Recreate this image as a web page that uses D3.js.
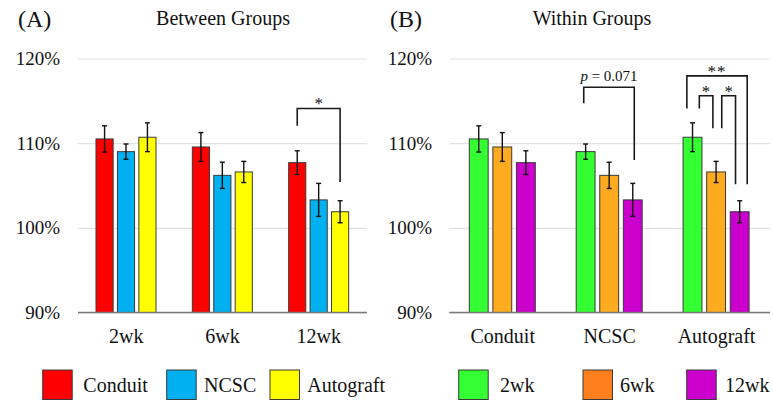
<!DOCTYPE html>
<meta charset="utf-8">
<script src="https://d3js.org/d3.v7.min.js"></script>
<style>
  body { margin: 0; background: #fff; }
  svg text { font-family: "Liberation Serif", "Times New Roman", serif; fill: #111; }
</style>
<div id="chart"></div>
<script>
// data
const weeks = ["2wk", "6wk", "12wk"];
const groups = ["Conduit", "NCSC", "Autograft"];
// mean (% of baseline), rows = group, columns = week
const conduitMean = [110.5, 109.55, 107.7];
const ncscMean = [109.0, 106.2, 103.3];
const autograftMean = [110.7, 106.6, 101.9];
const conduitErr = [1.55, 1.7, 1.4];
const ncscErr = [0.9, 1.55, 1.95];
const autograftErr = [1.7, 1.25, 1.3];
const yTicks = [90, 100, 110, 120];

const groupColors = ["#ff0000", "#00b0f0", "#ffff00"];
const weekColors = ["#33ff33", "#ffab1f", "#cc00cc"];
const weekLegendColors = ["#33ff33", "#ff7f1f", "#cc00cc"];

const means = [conduitMean, ncscMean, autograftMean];
const errs = [conduitErr, ncscErr, autograftErr];

// brackets: category, left series + position in bar, right series + position, y values
const bracketsA = [
  {cat: "12wk", s1: "Conduit", f1: 0.5, s2: "Autograft", f2: 0.5, top: 114.1, foot1: 112.05, foot2: 105.4, label: "*"}
];
const bracketsB = [
  {cat: "NCSC", s1: "2wk", f1: 0.4, s2: "12wk", f2: 0.58, top: 116.6, foot1: 114.7, foot2: 108.0, label: "p"},
  {cat: "Autograft", s1: "2wk", f1: 0.2, s2: "12wk", f2: 0.9, top: 117.95, foot1: 114.1, foot2: 105.15, label: "**"},
  {cat: "Autograft", s1: "2wk", f1: 0.86, s2: "6wk", f2: 0.33, top: 115.6, foot1: 114.1, foot2: 111.75, label: "*"},
  {cat: "Autograft", s1: "6wk", f1: 0.8, s2: "12wk", f2: 0.28, top: 115.6, foot1: 111.75, foot2: 105.15, label: "*"}
];

const W = 773, H = 405;
const svg = d3.select("#chart").append("svg")
  .attr("width", W).attr("height", H);

const y = d3.scaleLinear().domain([90, 120]).range([312.5, 58.5]);

function panel(opts) {
  const g = svg.append("g");
  const x0 = d3.scaleBand().domain(opts.cats).range([opts.left, opts.right]);
  const x1 = d3.scaleBand().domain(opts.series)
    .range([opts.inner[0], opts.inner[1]]).paddingInner(0.2);

  // grid + tick labels
  const ax = g.append("g")
    .attr("transform", `translate(${opts.left},0)`)
    .call(d3.axisLeft(y).tickValues(yTicks).tickFormat(d => d + "%")
      .tickSize(-(opts.right - opts.left)).tickPadding(opts.left - opts.labelRight));
  ax.select(".domain").remove();
  ax.selectAll(".tick line").attr("stroke", "#e2e2e2").attr("stroke-width", 1.2);
  ax.selectAll(".tick text").style("font-size", "19px")
    .style("font-family", "Liberation Serif, serif").attr("fill", "#111");

  // bars
  const rows = [];
  opts.cats.forEach((c, ci) => opts.series.forEach((s, si) => {
    rows.push({c, s, si, v: opts.value(ci, si), e: opts.err(ci, si)});
  }));
  const bg = g.append("g");
  bg.selectAll("rect").data(rows).join("rect")
    .attr("x", d => x0(d.c) + x1(d.s))
    .attr("width", x1.bandwidth())
    .attr("y", d => y(d.v))
    .attr("height", d => y(90) - y(d.v))
    .attr("fill", d => opts.colors[d.si])
    .attr("stroke", "#3a3a3a").attr("stroke-width", 1);

  // error bars
  const eg = g.append("g").attr("stroke", "#111").attr("stroke-width", 1.4);
  rows.forEach(d => {
    const cx = x0(d.c) + x1(d.s) + x1.bandwidth() / 2;
    eg.append("line").attr("x1", cx).attr("x2", cx)
      .attr("y1", y(d.v + d.e)).attr("y2", y(d.v - d.e));
    [d.v + d.e, d.v - d.e].forEach(v => eg.append("line")
      .attr("x1", cx - 2.5).attr("x2", cx + 2.5).attr("y1", y(v)).attr("y2", y(v)));
  });

  // baseline
  g.append("line").attr("x1", opts.left).attr("x2", opts.right)
    .attr("y1", y(90)).attr("y2", y(90))
    .attr("stroke", "#7a7a7a").attr("stroke-width", 1.6);

  // category labels
  g.selectAll(".cat").data(opts.cats).join("text")
    .attr("x", d => x0(d) + x0.bandwidth() / 2)
    .attr("y", 343)
    .attr("text-anchor", "middle")
    .style("font-size", "20px")
    .text(d => d);

  // significance brackets
  const sg = g.append("g");
  opts.brackets.forEach(b => {
    const xa = x0(b.cat) + x1(b.s1) + b.f1 * x1.bandwidth();
    const xb = x0(b.cat) + x1(b.s2) + b.f2 * x1.bandwidth();
    sg.append("path")
      .attr("d", `M${xa},${y(b.foot1)}V${y(b.top)}H${xb}V${y(b.foot2)}`)
      .attr("fill", "none").attr("stroke", "#1a1a1a").attr("stroke-width", 1.6);
    const t = sg.append("text")
      .attr("x", (xa + xb) / 2)
      .attr("text-anchor", "middle");
    if (b.label === "p") {
      t.attr("y", y(b.top) - 6).style("font-size", "15px");
      t.append("tspan").attr("font-style", "italic").text("p");
      t.append("tspan").text(" = 0.071");
    } else {
      t.attr("y", y(b.top) + 1).style("font-size", "17px")
        .attr("fill", "#555").attr("letter-spacing", b.label.length > 1 ? "1px" : null)
        .text(b.label);
    }
  });

  // titles
  g.append("text").attr("x", opts.tagX).attr("y", 27)
    .style("font-size", "24px").text(opts.tag);
  g.append("text").attr("x", opts.titleX).attr("y", 25)
    .attr("text-anchor", "middle").style("font-size", "20px").text(opts.title);

  // legend
  const lg = g.append("g");
  opts.series.forEach((s, i) => {
    lg.append("rect").attr("x", opts.legendBox[i]).attr("y", 370)
      .attr("width", 29.5).attr("height", 29.5)
      .attr("fill", opts.legendColors[i]).attr("stroke", "#3a3a3a").attr("stroke-width", 1);
    lg.append("text").attr("x", opts.legendText[i]).attr("y", 392)
      .style("font-size", "20px").text(s);
  });
}

panel({
  cats: weeks, series: groups,
  value: (ci, si) => means[si][ci], err: (ci, si) => errs[si][ci],
  colors: groupColors, legendColors: groupColors,
  left: 78, right: 367, inner: [18, 78], labelRight: 60,
  brackets: bracketsA,
  tag: "(A)", tagX: 18, title: "Between Groups", titleX: 223,
  legendBox: [42.7, 166.7, 270], legendText: [83.3, 204, 307.3]
});

panel({
  cats: groups, series: weeks,
  value: (ci, si) => means[ci][si], err: (ci, si) => errs[ci][si],
  colors: weekColors, legendColors: weekLegendColors,
  left: 449.3, right: 770, inner: [20, 86], labelRight: 432,
  brackets: bracketsB,
  tag: "(B)", tagX: 390, title: "Within Groups", titleX: 592,
  legendBox: [458.7, 583, 686.7], legendText: [500, 620, 725]
});
</script>
